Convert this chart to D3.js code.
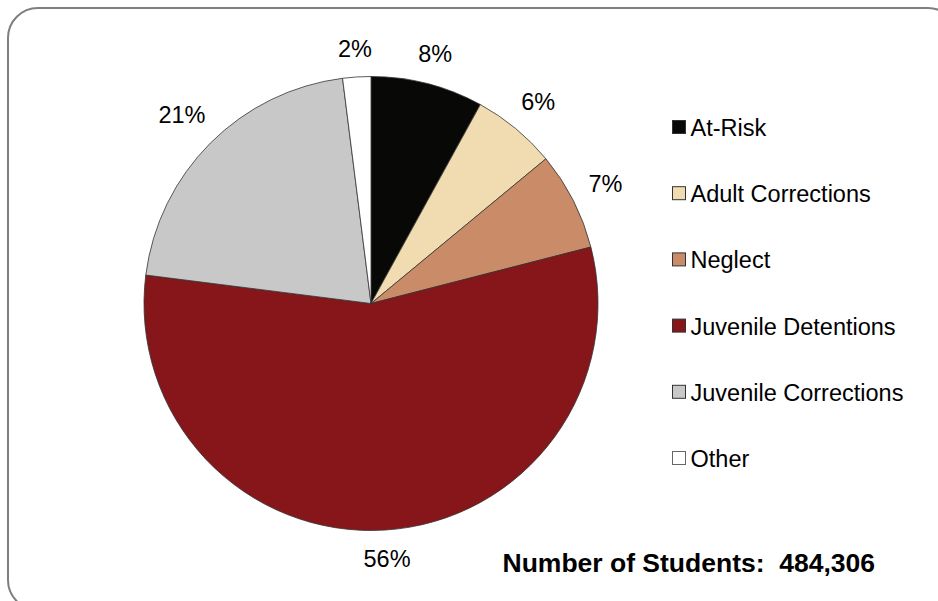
<!DOCTYPE html>
<html>
<head>
<meta charset="utf-8">
<script src="https://cdn.jsdelivr.net/npm/d3@7/dist/d3.min.js"></script>
<style>
  html, body { margin: 0; padding: 0; background: #fff; }
  svg { display: block; font-family: "Liberation Sans", Arial, sans-serif; }
</style>
</head>
<body>
<svg id="chart" width="938" height="601"></svg>
<script>
// Student population by program type (share of total, %)
const categories = ["At-Risk", "Adult Corrections", "Neglect", "Juvenile Detentions", "Juvenile Corrections", "Other"];
const shares = [8, 6, 7, 56, 21, 2];
const colors = ["#080806", "#f0dcb0", "#c98b68", "#86161a", "#c8c8c8", "#ffffff"];
const totalLabel = "Number of Students:  484,306";

const svg = d3.select("#chart");

// Rounded frame around the whole chart
svg.append("rect")
  .attr("x", 8).attr("y", 8)
  .attr("width", 950).attr("height", 602)
  .attr("rx", 30).attr("ry", 30)
  .attr("fill", "#fff")
  .attr("stroke", "#7f7f7f")
  .attr("stroke-width", 2);

const cx = 371, cy = 303.5, radius = 227;
const data = categories.map((c, i) => ({ name: c, value: shares[i], color: colors[i] }));

const pie = d3.pie().sort(null).value(d => d.value);
const arcs = pie(data);
const arc = d3.arc().innerRadius(0).outerRadius(radius);

const g = svg.append("g").attr("transform", `translate(${cx},${cy})`);

g.selectAll("path.slice")
  .data(arcs)
  .join("path")
  .attr("class", "slice")
  .attr("d", arc)
  .attr("fill", d => d.data.color)
  .attr("stroke", "#333")
  .attr("stroke-width", 0.8);

// Percentage labels placed just outside each slice
const fontSize = 23.5;
const labelGap = 16;
const labels = g.selectAll("text.pct")
  .data(arcs)
  .join("text")
  .attr("class", "pct")
  .attr("font-size", fontSize)
  .attr("fill", "#000")
  .attr("text-anchor", "middle")
  .text(d => d.data.value + "%");

labels.each(function(d) {
  const bb = this.getBBox();
  const mid = (d.startAngle + d.endAngle) / 2;
  const s = Math.sin(mid), c = Math.cos(mid);
  const halfW = bb.width / 2, halfH = 11;
  const dist = radius + labelGap + Math.abs(s) * halfW + Math.abs(c) * halfH;
  const x = s * dist, y = -c * dist;
  d3.select(this).attr("x", x).attr("y", y + 8.4);
});

// Legend
const legend = svg.append("g").attr("transform", "translate(672,136)");
const rowStep = 66.2;
const rows = legend.selectAll("g.row")
  .data(data)
  .join("g")
  .attr("class", "row")
  .attr("transform", (d, i) => `translate(0,${i * rowStep})`);

rows.append("rect")
  .attr("x", 0.5).attr("y", -15.5)
  .attr("width", 13).attr("height", 13)
  .attr("fill", d => d.color)
  .attr("stroke", d => d.name === "Other" ? "#666" : "#333")
  .attr("stroke-width", 1);

rows.append("text")
  .attr("x", 18.5).attr("y", 0)
  .attr("font-size", fontSize)
  .attr("fill", "#000")
  .text(d => d.name);

// Total count note
svg.append("text")
  .attr("x", 502.5).attr("y", 571.5)
  .attr("font-size", 26.5)
  .attr("font-weight", "bold")
  .attr("fill", "#000")
  .style("white-space", "pre")
  .text(totalLabel);
</script>
</body>
</html>
